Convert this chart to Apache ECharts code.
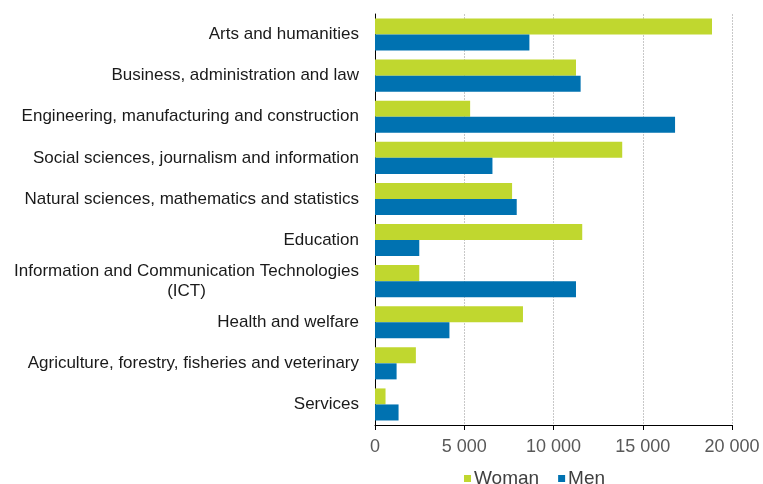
<!DOCTYPE html>
<html>
<head>
<meta charset="utf-8">
<script src="https://cdn.jsdelivr.net/npm/echarts@6/dist/echarts.min.js"></script>
<style>
  html, body { margin: 0; padding: 0; background: #fff; }
  #chart { width: 763px; height: 484px; }
</style>
</head>
<body>
<div id="chart"></div>
<script>
// fields of study, top to bottom
const categories = [
  'Arts and humanities',
  'Business, administration and law',
  'Engineering, manufacturing and construction',
  'Social sciences, journalism and information',
  'Natural sciences, mathematics and statistics',
  'Education',
  'Information and Communication Technologies\n(ICT)',
  'Health and welfare',
  'Agriculture, forestry, fisheries and veterinary',
  'Services'
];
const woman = [18880, 11260, 5330, 13850, 7680, 11610, 2480, 8290, 2290, 590];
const men = [8650, 11520, 16810, 6580, 7940, 2480, 11260, 4170, 1210, 1320];
const xTicks = [0, 5000, 10000, 15000, 20000];

const green = '#c0d72f';
const blue = '#0072b1';
const fontFamily = '"Liberation Sans", Arial, sans-serif';

let chart = echarts.init(document.getElementById('chart'));

function fmtThousands(v) {
  return String(v).replace(/\B(?=(\d{3})+(?!\d))/g, ' ');
}

let option = {
  animation: false,
  textStyle: { fontFamily: fontFamily },
  grid: {
    left: 375,
    right: 31,
    top: 14,
    bottom: 59,
    containLabel: false
  },
  legend: {
    data: ['Woman', 'Men'],
    left: 459,
    top: 464,
    itemWidth: 7,
    itemHeight: 7,
    itemGap: 19,
    icon: 'rect',
    textStyle: { fontSize: 19, color: '#404040', fontFamily: fontFamily, padding: [0, 0, 0, -2] }
  },
  xAxis: {
    type: 'value',
    min: xTicks[0],
    max: xTicks[xTicks.length - 1],
    interval: 5000,
    axisLine: { show: true, lineStyle: { color: '#000', width: 1 } },
    axisTick: { show: true, length: 5, lineStyle: { color: '#000' } },
    axisLabel: {
      margin: 13,
      fontSize: 18,
      color: '#595959',
      formatter: fmtThousands
    },
    splitLine: {
      show: true,
      lineStyle: { color: '#c8c8c8', type: [2, 1], width: 1 }
    }
  },
  yAxis: {
    type: 'category',
    inverse: true,
    data: categories,
    axisLine: { show: true, onZero: false, lineStyle: { color: '#000', width: 1 } },
    axisTick: { show: false },
    axisLabel: {
      margin: 16,
      fontSize: 17,
      color: '#1a1a1a',
      lineHeight: 20,
      formatter: function (val) {
        let parts = val.split('\n');
        if (parts.length > 1) {
          return '{a|' + parts[0] + '}\n{b|' + parts[1] + '}';
        }
        return '{a|' + val + '}';
      },
      rich: {
        a: { fontSize: 17, color: '#1a1a1a', align: 'right', lineHeight: 20 },
        b: { fontSize: 17, color: '#1a1a1a', align: 'center', lineHeight: 20 }
      }
    }
  },
  series: [
    {
      name: 'Woman',
      type: 'bar',
      data: woman,
      itemStyle: { color: green },
      barGap: '0%',
      barCategoryGap: '22%'
    },
    {
      name: 'Men',
      type: 'bar',
      data: men,
      itemStyle: { color: blue },
      barGap: '0%',
      barCategoryGap: '22%'
    }
  ]
};

chart.setOption(option);
</script>
</body>
</html>
